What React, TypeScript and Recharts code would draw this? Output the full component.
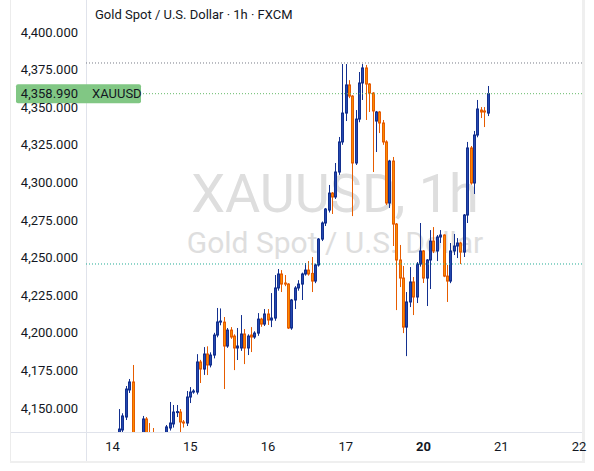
import { ComposedChart, Bar, XAxis, YAxis, ReferenceLine } from 'recharts';

// hourly bar number counted from the first hour of the 14th
const barIndex = [
  2, 3, 4, 5, 6, 9, 10, 11, 12, 16, 17, 18, 19, 20, 21, 22, 23, 24, 25, 26, 27, 28, 29, 30, 31, 32,
  33, 34, 35, 36, 37, 38, 39, 40, 41, 42, 43, 44, 45, 46, 47, 48, 49, 50, 51, 52, 53, 54, 55, 56, 57,
  58, 59, 60, 61, 62, 63, 64, 65, 66, 67, 68, 69, 70, 71, 72, 73, 74, 75, 76, 77, 78, 79, 80, 81, 82,
  83, 84, 85, 86, 87, 88, 89, 90, 91, 92, 93, 94, 95, 96, 97, 98, 99, 100, 101, 102, 103, 104, 105,
  106, 107, 108, 109, 110, 111,
];
const openPrices = [
  4131, 4135.4, 4144, 4162, 4167.3, 4128, 4142.7, 4133, 4132, 4131, 4136.7, 4139.4, 4147, 4147.3, 4140.7, 4140, 4157.3, 4160.6, 4160.6, 4180.6, 4175.9, 4185.9, 4178.6, 4185.2, 4198.5, 4207.2,
  4207.1, 4191.2, 4201.8, 4197.8, 4189.9, 4189.9, 4199.2, 4189.9, 4198.5, 4197.2, 4199.8, 4209.1, 4205.8, 4212.5, 4208.5, 4209.8, 4229.8, 4239.1, 4233.1, 4232.4, 4203.2, 4221.8, 4229.8, 4232.4, 4239.1,
  4241.7, 4239.5, 4234.4, 4245.1, 4262.3, 4273, 4281.6, 4292.9, 4290.3, 4306.9, 4326.9, 4346.1, 4364.8, 4357.4, 4312.9, 4342.1, 4366.1, 4376.1, 4365.4, 4359.4, 4340.8, 4346.8, 4339.5, 4326.9, 4286.3,
  4314.2, 4272.3, 4248.4, 4236.4, 4203.8, 4220.5, 4233.8, 4223.8, 4245.7, 4254.4, 4236.4, 4248.4, 4261, 4254.4, 4263.7, 4265, 4237.7, 4234.4, 4254.4, 4257.7, 4259.7, 4253.7, 4278.3,
  4322.9, 4299.6, 4331.5, 4348.1, 4347.5, 4346.1,
];
const highPrices = [
  4149.3, 4146.5, 4164.6, 4169.3, 4178.6, 4144.7, 4144, 4140, 4136.7, 4138.7, 4154, 4152, 4152, 4149.3, 4142, 4161.3, 4163.9, 4162.5, 4185.8, 4182, 4190.5, 4191, 4187, 4200, 4216.5, 4216.2,
  4210.5, 4203.2, 4203.8, 4199, 4203.2, 4211.8, 4202.5, 4199, 4203.8, 4201, 4213.1, 4210, 4215.8, 4215.8, 4226.4, 4238.4, 4242.4, 4241.7, 4238.4, 4233, 4222.5, 4231, 4235, 4240, 4246.4,
  4247.7, 4250.4, 4246, 4263, 4274, 4283, 4298.3, 4293.6, 4312.9, 4330.2, 4378.7, 4378.7, 4368, 4358, 4348.1, 4373.4, 4378.7, 4378.1, 4366, 4360, 4347.5, 4347.5, 4341.5, 4328, 4315,
  4316.9, 4273, 4258.4, 4244.4, 4227.1, 4243.7, 4237.1, 4247, 4273, 4255, 4249, 4268.3, 4270.3, 4265, 4268.3, 4265.5, 4245.1, 4259.7, 4265.7, 4263, 4260.5, 4279, 4326.9,
  4324.2, 4334.2, 4354.8, 4350.1, 4350.1, 4364.1,
];
const lowPrices = [
  4126, 4134, 4142, 4160, 4115, 4124, 4126, 4125, 4120, 4128, 4135, 4137, 4144, 4133, 4137, 4138, 4153.3, 4159.5, 4159, 4166.6, 4172, 4171.9, 4177, 4183, 4197, 4205,
  4162.6, 4190, 4196, 4175.2, 4181.9, 4188, 4179.2, 4185.2, 4187.2, 4196, 4198, 4204, 4204.5, 4205.2, 4203.8, 4208, 4228, 4227.1, 4231, 4202.5, 4202, 4215.8, 4228, 4221.8, 4238,
  4238, 4227.1, 4233, 4244, 4261, 4271, 4280, 4279, 4289, 4305, 4325, 4340.8, 4356, 4277.6, 4311.6, 4340, 4354.8, 4341.5, 4346.8, 4306.9, 4320.2, 4332.8, 4325, 4285, 4283,
  4257.7, 4215.1, 4230.4, 4199.8, 4184.5, 4217.1, 4211.8, 4219.8, 4244, 4233.1, 4217.8, 4229.1, 4253, 4247.7, 4259.7, 4237, 4220.5, 4233, 4251.7, 4249.7, 4245.7, 4250.4, 4273,
  4298.5, 4292.3, 4330, 4342.8, 4336.8, 4344.1,
];
const closePrices = [
  4136, 4144.7, 4162.6, 4167.3, 4122, 4142.7, 4130, 4130, 4128, 4137.4, 4140, 4147.3, 4147.6, 4140.7, 4140, 4157.3, 4160.6, 4161.3, 4180.6, 4175.9, 4185.9, 4178.6, 4185.2, 4198.5, 4207.2, 4207.8,
  4191.2, 4201.8, 4197.2, 4189.9, 4191.2, 4199.2, 4189.9, 4197.8, 4197.2, 4199.8, 4209.1, 4205.8, 4212.5, 4208.5, 4209.8, 4229.8, 4239.1, 4232.4, 4232.4, 4203.2, 4221.8, 4229.8, 4232.4, 4239.1, 4241.7,
  4239.1, 4234.4, 4245.1, 4262.3, 4273, 4282.3, 4292.9, 4290.3, 4306.9, 4326.9, 4346.1, 4364.8, 4357.4, 4312.9, 4342.1, 4366.1, 4376.1, 4365.4, 4359.4, 4347.5, 4346.8, 4339.5, 4326.9, 4286.3, 4314.2,
  4272.3, 4248.4, 4236.4, 4203.8, 4220.5, 4233.8, 4223.8, 4245.7, 4254.4, 4236.4, 4248.4, 4261, 4254.4, 4263.7, 4265, 4237.7, 4234.4, 4254.4, 4257.7, 4259.7, 4253.7, 4278.3, 4322.9,
  4299.6, 4331.5, 4348.8, 4346.8, 4346.8, 4358.99,
];

const dayTicks = [0, 23, 46, 69, 92, 115, 138];
const dayLabels = ['14', '15', '16', '17', '20', '21', '22'];
const priceTicks = [4150, 4175, 4200, 4225, 4250, 4275, 4300, 4325, 4350, 4375, 4400];

const lastPrice = 4358.99;
const highLevel = 4379.4;
const lowLevel = 4245.75;

const candles = barIndex.map((i, k) => ({
  i,
  open: openPrices[k],
  high: highPrices[k],
  low: lowPrices[k],
  close: closePrices[k],
}));

const FONT = 'Roboto, sans-serif';
const TEXT = '#131722';
const UP_FILL = '#2448b0';
const UP_LINE = '#13308f';
const DOWN_FILL = '#fb8c00';
const DOWN_LINE = '#e65c00';

const fmt = (v: number) =>
  v.toLocaleString('en-US', { minimumFractionDigits: 3, maximumFractionDigits: 3 });

const Candle = (props: any) => {
  const { x, y, width, height, payload } = props;
  if (x == null || y == null || !payload) return null;
  const top = Math.min(y, y + height);
  const h = Math.abs(height);
  const range = payload.high - payload.low;
  const k = range > 0 ? h / range : 0;
  const toY = (v: number) => top + (payload.high - v) * k;
  const up = payload.close >= payload.open;
  const line = up ? UP_LINE : DOWN_LINE;
  const fill = up ? UP_FILL : DOWN_FILL;
  const cx = Math.round(x + width / 2);
  const bTop = toY(Math.max(payload.open, payload.close));
  const bBot = toY(Math.min(payload.open, payload.close));
  return (
    <g>
      <line x1={cx + 0.5} x2={cx + 0.5} y1={top} y2={top + h} stroke={line} strokeWidth={1} />
      <rect
        x={cx - 0.5}
        y={bTop}
        width={2}
        height={Math.max(1, bBot - bTop)}
        fill={fill}
        stroke={line}
        strokeWidth={1}
      />
    </g>
  );
};

const PriceTag = (props: any) => {
  const vb = props.viewBox || {};
  const x = vb.x ?? 0;
  const y = vb.y ?? 0;
  return (
    <g>
      <rect x={x - 70} y={y - 9.5} width={125} height={19} rx={2} fill="#81c784" />
      <text x={x - 8} y={y} dy="0.36em" textAnchor="end" fontSize={13} fontFamily={FONT} fill={TEXT}>
        {fmt(lastPrice)}
      </text>
      <text x={x + 6} y={y} dy="0.36em" fontSize={13} fontFamily={FONT} fill={TEXT}>
        XAUUSD
      </text>
    </g>
  );
};

const DayTick = (props: any) => {
  const { x, y, payload } = props;
  const idx = dayTicks.indexOf(payload.value);
  const label = dayLabels[idx] ?? '';
  return (
    <text
      x={x}
      y={y + 2}
      dy="0.71em"
      textAnchor="middle"
      fontSize={13}
      fontFamily={FONT}
      fontWeight={label === '20' ? 700 : 400}
      fill={TEXT}
    >
      {label}
    </text>
  );
};

export default function App() {
  return (
    <div style={{ position: 'absolute', left: 0, top: 0, width: 594, height: 471, background: '#ffffff', overflow: 'hidden' }}>
      {/* panel frame */}
      <div style={{ position: 'absolute', left: 10, top: 0, width: 1, height: 462, background: '#ececec' }} />
      <div style={{ position: 'absolute', left: 582, top: 0, width: 3, height: 463, background: '#efefef' }} />
      <div style={{ position: 'absolute', left: 10, top: 461, width: 575, height: 2, background: '#efefef' }} />
      <div style={{ position: 'absolute', left: 86, top: 0, width: 1, height: 461, background: '#e0e3eb' }} />
      <div style={{ position: 'absolute', left: 11, top: 432, width: 571, height: 1, background: '#e0e3eb' }} />

      {/* watermark */}
      <svg width={594} height={471} style={{ position: 'absolute', left: 0, top: 0 }}>
        <text x={335} y={212} textAnchor="middle" fontSize={54} fontFamily={FONT} fill="#dedede">
          XAUUSD, 1h
        </text>
        <text x={335} y={253} textAnchor="middle" fontSize={30} fontFamily={FONT} fill="#dedede">
          Gold Spot / U.S. Dollar
        </text>
      </svg>

      <div style={{ position: 'absolute', left: 10, top: 0 }}>
        <ComposedChart width={582} height={462} data={candles} margin={{ top: 0, right: 10, bottom: 0, left: 0 }}>
          <XAxis
            type="number"
            dataKey="i"
            domain={[-7.84, 138.9]}
            ticks={dayTicks}
            allowDataOverflow
            height={30}
            axisLine={false}
            tickLine={false}
            tick={<DayTick />}
            interval={0}
          />
          <YAxis
            type="number"
            domain={[4134.04, 4421.28]}
            ticks={priceTicks}
            allowDataOverflow
            width={76}
            axisLine={false}
            tickLine={false}
            tickFormatter={fmt}
            tick={{ fill: TEXT, fontSize: 13, fontFamily: FONT }}
            interval={0}
          />
          <Bar
            dataKey={(d: any) => [d.low, d.high]}
            barSize={3}
            shape={<Candle />}
            isAnimationActive={false}
          />
          <ReferenceLine y={highLevel} stroke="#787b86" strokeDasharray="1 2" />
          <ReferenceLine y={lowLevel} stroke="#22ab94" strokeDasharray="1 2" />
          <ReferenceLine y={lastPrice} stroke="#66bb6a" strokeDasharray="1 2" label={<PriceTag />} />
        </ComposedChart>
      </div>

      {/* title */}
      <div style={{ position: 'absolute', left: 95, top: 7, fontFamily: FONT, fontSize: 13, lineHeight: '16px', color: TEXT, whiteSpace: 'nowrap' }}>
        Gold Spot / U.S. Dollar · 1h · FXCM
      </div>
    </div>
  );
}
